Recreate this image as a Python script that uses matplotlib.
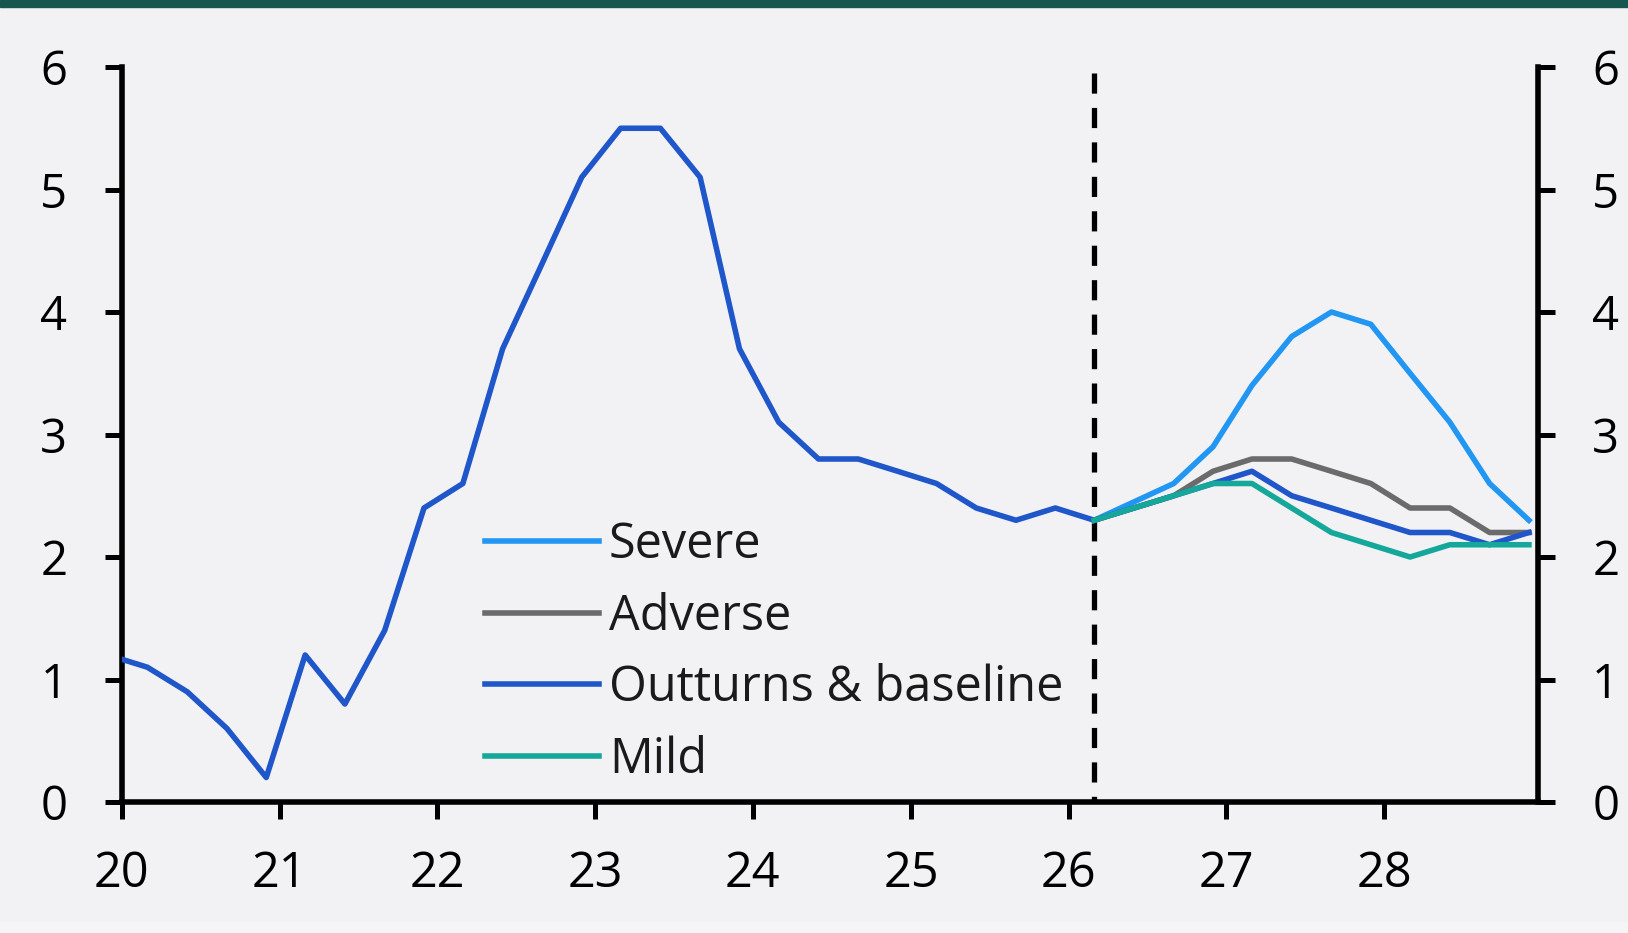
import matplotlib
matplotlib.use("Agg")
import matplotlib.pyplot as plt
import matplotlib.dates as mdates
import pandas as pd

# Quarterly observations (dated on the first day of each quarter's last month)
dates = pd.date_range("2019-12-01", "2028-12-01", freq="3MS")

baseline = [1.2,
            1.1, 0.9, 0.6, 0.2,
            1.2, 0.8, 1.4, 2.4,
            2.6, 3.7, 4.4, 5.1,
            5.5, 5.5, 5.1, 3.7,
            3.1, 2.8, 2.8, 2.7,
            2.6, 2.4, 2.3, 2.4,
            2.3, 2.4, 2.5, 2.6,
            2.7, 2.5, 2.4, 2.3,
            2.2, 2.2, 2.1, 2.2]

# Scenario paths branch off at the first forecast quarter
scenario_start = pd.Timestamp("2026-03-01")
severe = [2.3, 2.45, 2.6, 2.9, 3.4, 3.8, 4.0, 3.9, 3.5, 3.1, 2.6, 2.3]
adverse = [2.3, 2.4, 2.5, 2.7, 2.8, 2.8, 2.7, 2.6, 2.4, 2.4, 2.2, 2.2]
mild = [2.3, 2.4, 2.5, 2.6, 2.6, 2.4, 2.2, 2.1, 2.0, 2.1, 2.1, 2.1]

year_ticks = [f"{y}-01-01" for y in range(2020, 2029)]
y_ticks = [0, 1, 2, 3, 4, 5, 6]

BG = "#F2F2F4"
C_SEVERE = "#2196F3"
C_ADVERSE = "#6B6B6B"
C_BASE = "#1F56C9"
C_MILD = "#15A89A"

plt.rcParams["font.family"] = ["Open Sans", "DejaVu Sans"]

fig = plt.figure(figsize=(16.28, 9.33), dpi=100, facecolor=BG)
W, H = 1628, 933
# dark header strip and slightly lighter footer strip
fig.patches.append(plt.Rectangle((0, 1 - 7 / H), 1, 7 / H, transform=fig.transFigure,
                                 color="#17554F", zorder=0))
fig.patches.append(plt.Rectangle((0, 0), 1, 11 / H, transform=fig.transFigure,
                                 color="#F5F5F7", zorder=0))

left, right, bottom, top = 121.5, 1538, 802, 67
ax = fig.add_axes([left / W, 1 - bottom / H, (right - left) / W, (bottom - top) / H])
ax.set_facecolor(BG)

lw = 4.0
scen_dates = dates[dates >= scenario_start]
ax.plot(scen_dates, severe, color=C_SEVERE, lw=lw, label="Severe", zorder=3)
ax.plot(scen_dates, adverse, color=C_ADVERSE, lw=lw, label="Adverse", zorder=3)
ax.plot(dates, baseline, color=C_BASE, lw=lw, label="Outturns & baseline", zorder=3)
ax.plot(scen_dates, mild, color=C_MILD, lw=lw, label="Mild", zorder=3)

dlw = 3.8
ax.plot([scenario_start, scenario_start], [5.95, 0], color="black", lw=dlw,
        linestyle=(0, (14.5 / dlw, 10.3 / dlw)), zorder=2, clip_on=False)

ax.set_xlim(pd.Timestamp("2020-01-01"), pd.Timestamp("2028-12-22"))
ax.set_ylim(0, 6)
ax.set_xticks(pd.to_datetime(year_ticks))
ax.xaxis.set_major_formatter(mdates.DateFormatter("%y"))
ax.set_yticks(y_ticks)
ax.set_yticklabels([str(v) for v in y_ticks])

for side in ("left", "right", "bottom"):
    ax.spines[side].set_linewidth(4.0)
    ax.spines[side].set_color("black")
    ax.spines[side].set_capstyle("projecting")
ax.spines["top"].set_visible(False)

ax.tick_params(axis="y", which="major", direction="out", length=12, width=3.6,
               left=True, right=True, labelleft=True, labelright=True,
               labelsize=34, pad=27, colors="black")
ax.tick_params(axis="x", which="major", direction="out", length=12, width=3.6,
               labelsize=35, pad=22, colors="black")

leg = ax.legend(loc="upper left",
                bbox_to_anchor=((485 - left) / (right - left), (bottom - 521) / (bottom - top)),
                frameon=False, fontsize=35, handlelength=2.35, handletextpad=0.2,
                labelspacing=0.45, borderaxespad=0, borderpad=0)
for t in leg.get_texts():
    t.set_color("#1a1a1a")

fig.savefig("out.png", dpi=100, facecolor=BG)
